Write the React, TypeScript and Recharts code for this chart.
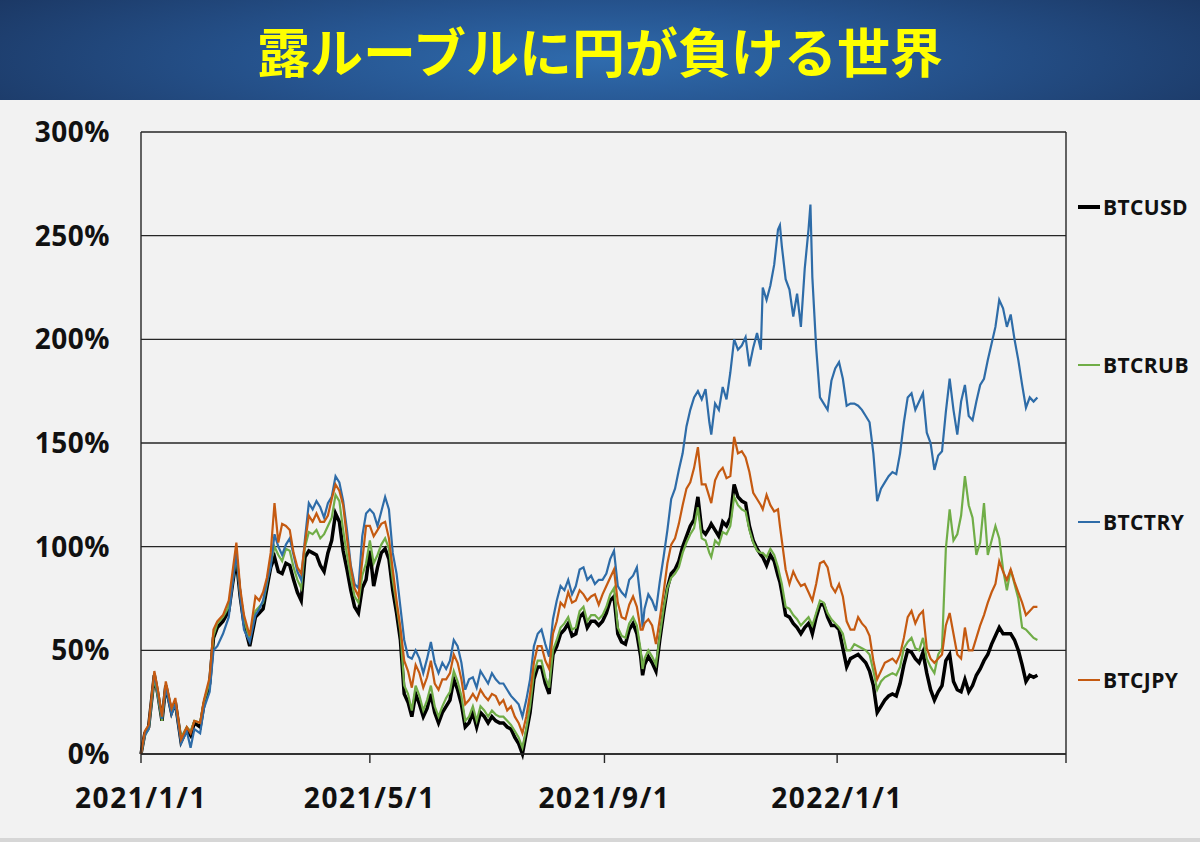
import { LineChart, Line, XAxis, YAxis, CartesianGrid, ReferenceLine } from 'recharts';

// days counted from 2021/1/1
const days = [
  0, 2, 4, 7, 9, 11, 13, 16, 18, 21, 24, 26, 28, 31, 33, 36, 38, 40, 43, 46, 48, 50, 52, 54, 57,
  60, 62, 64, 66, 68, 70, 72, 74, 76, 78, 80, 82, 84, 86, 88, 90, 92, 94, 96, 98, 100, 102, 104,
  106, 108, 110, 112, 114, 116, 118,
  120, 122, 124, 126, 128, 130, 132, 134, 136, 138, 140, 142, 144, 146, 148, 150, 152, 154, 156,
  158, 160, 162, 164, 166, 168, 170, 172, 174, 176, 178, 180, 182, 184, 186, 188, 190, 192, 194,
  196, 198, 200, 202, 204, 206, 208, 210, 212, 214, 216, 218, 220, 222, 224, 226, 228, 230, 232,
  234, 236, 238, 240, 242, 244, 246, 248,
  250, 252, 254, 256, 258, 260, 262, 263, 264, 266, 268, 270, 272, 274, 276, 278, 280, 282, 284,
  286, 288, 290, 292, 294, 296, 298, 299, 301, 303, 305, 307, 309, 311, 313, 315, 317, 319, 321,
  323, 325, 326, 328, 330, 332, 334, 335, 336, 338, 340, 342, 344, 346, 348, 350, 351, 352, 354,
  356, 358, 360, 362, 364, 366, 368, 370,
  372, 374, 376, 378, 380, 382, 384, 386, 388, 390, 392, 394, 396, 398, 400, 402, 404, 406, 408,
  410, 412, 414, 416, 418, 420, 422, 424, 426, 428, 430, 432, 434, 436, 438, 440, 442, 444, 446,
  448, 450, 452, 454, 456, 458, 460, 462, 464, 466, 468, 470,
];

const btcUsd = [
  0, 10, 13, 38, 28, 16, 33, 20, 25, 6, 12, 9, 15, 13, 24, 34, 56, 61, 64, 69, 82, 94, 76, 63, 52,
  66, 68, 70, 80, 90, 95, 88, 87, 92, 91, 84, 78, 74, 95, 98, 97, 96, 91, 88, 97, 103, 116, 112,
  98, 89, 79, 71, 68, 80, 84,
  98, 81, 90, 97, 99, 94, 79, 68, 55, 29, 25, 18, 29, 24, 18, 22, 29, 20, 15, 20, 23, 26, 36, 31,
  24, 13, 15, 20, 13, 20, 18, 15, 18, 16, 15, 15, 13, 12, 8, 5, 0, 10, 20, 36, 42, 42, 34, 29, 48,
  52, 58, 60, 63, 57, 58, 66, 68, 61, 64, 64, 62, 64, 68, 74, 76,
  58, 54, 53, 60, 63, 58, 47, 38, 43, 47, 44, 40, 55, 68, 80, 87, 89, 93, 100, 105, 110, 113, 124,
  108, 106, 109, 111, 108, 105, 112, 110, 114, 130, 124, 122, 121, 110, 103, 99, 96, 95, 91, 96,
  93, 86, 83, 78, 67, 66, 63, 61, 58, 61, 63, 61, 58, 66, 72, 72, 66, 62, 62, 60, 51, 42,
  46, 47, 48, 46, 44, 40, 33, 20, 23, 26, 28, 29, 28, 34, 43, 50, 49, 46, 44, 49, 39, 31, 26, 30,
  33, 45, 48, 35, 31, 30, 36, 30, 33, 38, 41, 45, 48, 53, 57, 61, 58, 58, 58, 55, 50, 43, 35, 38,
  37, 38,
];

const btcRub = [
  0, 9, 12, 37, 27, 16, 33, 21, 24, 8, 13, 11, 16, 15, 25, 35, 57, 63, 66, 71, 83, 96, 77, 65, 55,
  69, 71, 73, 82, 92, 100, 96, 93, 99, 98, 90, 84, 80, 100, 107, 106, 108, 104, 106, 110, 114, 125,
  122, 108, 96, 85, 76, 73, 86, 92,
  103, 92, 96, 101, 104, 99, 84, 72, 59, 33, 29, 21, 33, 28, 21, 26, 33, 23, 18, 23, 27, 30, 40,
  35, 28, 16, 18, 23, 16, 23, 21, 18, 21, 19, 18, 18, 16, 14, 11, 8, 3, 12, 23, 39, 45, 45, 37, 32,
  50, 55, 61, 63, 66, 60, 61, 69, 71, 64, 67, 67, 65, 67, 71, 77, 80,
  61, 57, 56, 63, 66, 62, 50, 41, 46, 50, 47, 43, 57, 70, 80, 85, 87, 90, 97, 102, 106, 109, 119,
  104, 103, 97, 95, 103, 101, 107, 106, 110, 124, 120, 118, 117, 108, 102, 98, 97, 97, 95, 99, 96,
  90, 86, 82, 71, 70, 67, 65, 62, 64, 66, 64, 62, 68, 74, 73, 68, 65, 63, 61, 58, 50,
  50, 53, 52, 51, 50, 48, 40, 31, 35, 37, 38, 39, 38, 42, 51, 54, 56, 51, 50, 56, 46, 42, 39, 48,
  51, 99, 118, 103, 106, 115, 134, 120, 114, 96, 102, 121, 96, 103, 110, 104, 89, 79, 89, 82, 75,
  61, 60, 58, 56, 55,
];

const btcTry = [
  0, 9, 12, 39, 28, 17, 32, 19, 24, 5, 11, 3, 12, 10, 22, 30, 50, 52, 58, 66, 82, 97, 76, 60, 54,
  67, 70, 74, 83, 90, 106, 100, 96, 101, 104, 96, 88, 84, 104, 121, 118, 122, 119, 114, 121, 124,
  134, 131, 122, 108, 91, 82, 80, 105, 116,
  118, 116, 110, 117, 124, 118, 97, 87, 71, 55, 47, 46, 50, 46, 39, 46, 54, 44, 39, 44, 41, 45, 55,
  52, 44, 31, 36, 37, 32, 40, 37, 34, 39, 36, 34, 34, 31, 28, 26, 24, 18, 26, 36, 52, 58, 60, 53,
  47, 65, 74, 81, 79, 84, 77, 81, 89, 90, 84, 86, 82, 84, 84, 87, 94, 98,
  81, 78, 76, 84, 86, 90, 74, 61, 70, 77, 74, 69, 83, 95, 108, 123, 128, 137, 145, 158, 166, 172,
  175, 171, 176, 160, 154, 169, 166, 177, 171, 184, 200, 195, 197, 201, 187, 196, 203, 195, 225,
  219, 226, 236, 253, 255, 245, 229, 224, 211, 222, 206, 234, 253, 265, 230, 196, 172, 169, 166,
  180, 186, 189, 181, 168,
  169, 169, 168, 166, 163, 160, 145, 122, 128, 131, 134, 136, 135, 145, 160, 172, 174, 166, 170,
  174, 155, 150, 137, 144, 146, 165, 181, 166, 154, 170, 178, 163, 161, 170, 178, 181, 190, 198,
  206, 219, 215, 206, 212, 200, 190, 178, 167, 172, 170, 172,
];

const btcJpy = [
  0, 11, 14, 40, 30, 18, 35, 22, 27, 7, 13, 10, 16, 15, 26, 37, 60, 64, 67, 74, 88, 102, 80, 67,
  57, 76, 74, 78, 85, 97, 121, 102, 111, 110, 108, 97, 90, 87, 102, 115, 112, 116, 112, 112, 115,
  123, 130, 127, 120, 104, 90, 80, 76, 93, 110,
  110, 105, 108, 111, 112, 104, 89, 74, 61, 45, 40, 32, 43, 39, 32, 37, 45, 34, 31, 36, 36, 39, 48,
  44, 36, 24, 26, 29, 26, 31, 28, 26, 29, 28, 24, 26, 21, 23, 18, 15, 10, 18, 29, 44, 52, 52, 45,
  41, 58, 64, 73, 71, 78, 73, 74, 79, 77, 74, 76, 77, 72, 77, 81, 85, 89,
  73, 66, 65, 72, 76, 71, 60, 60, 63, 65, 62, 53, 65, 78, 92, 101, 104, 111, 120, 128, 131, 138,
  148, 130, 130, 124, 121, 132, 136, 138, 133, 134, 153, 145, 146, 143, 136, 126, 123, 120, 118,
  125, 120, 117, 118, 110, 103, 89, 82, 88, 84, 81, 82, 78, 76, 74, 82, 92, 93, 90, 81, 78, 82, 76,
  64,
  60, 60, 66, 63, 61, 57, 45, 36, 40, 44, 45, 46, 44, 48, 56, 66, 69, 63, 67, 69, 51, 46, 44, 46,
  48, 62, 68, 58, 48, 46, 61, 50, 50, 56, 62, 67, 73, 78, 82, 93, 88, 84, 89, 83, 78, 73, 67, 69,
  71, 71,
];

const yTicks = [0, 50, 100, 150, 200, 250, 300];
const xTickDays = [0, 120, 243, 365, 485];
const xTickLabels = ['2021/1/1', '2021/5/1', '2021/9/1', '2022/1/1', ''];

const seriesNames = ['BTCUSD', 'BTCRUB', 'BTCTRY', 'BTCJPY'];

const SERIES = [
  { key: 'usd', name: seriesNames[0], color: '#000000', width: 3.5, legendTop: 207 },
  { key: 'rub', name: seriesNames[1], color: '#70ad47', width: 2.2, legendTop: 365 },
  { key: 'try', name: seriesNames[2], color: '#2e6ca8', width: 2.2, legendTop: 522 },
  { key: 'jpy', name: seriesNames[3], color: '#c55a11', width: 2.2, legendTop: 680 },
];

const data = days.map((day, i) => ({
  day,
  usd: btcUsd[i],
  rub: btcRub[i],
  try: btcTry[i],
  jpy: btcJpy[i],
}));

const GRID = '#262626';
const FONT = '"Open Sans", "Noto Sans", sans-serif';

export default function App() {
  return (
    <div
      style={{
        position: 'absolute',
        left: 0,
        top: 0,
        width: 1200,
        height: 842,
        background: '#f2f2f2',
        overflow: 'hidden',
        fontFamily: FONT,
      }}
    >
      <LineChart
        width={1200}
        height={842}
        data={data}
        margin={{ top: 132, right: 134, bottom: 0, left: 0 }}
        style={{ position: 'absolute', left: 0, top: 0 }}
      >
        <CartesianGrid vertical={false} stroke={GRID} strokeWidth={1.4} />
        <XAxis
          dataKey="day"
          type="number"
          domain={[0, 485]}
          ticks={xTickDays}
          interval={0}
          height={88}
          tickSize={9}
          tickMargin={25}
          axisLine={{ stroke: GRID, strokeWidth: 1.4 }}
          tickLine={{ stroke: GRID, strokeWidth: 1.4 }}
          tickFormatter={(v) => xTickLabels[xTickDays.indexOf(v)] ?? ''}
          tick={{
            fill: '#111',
            fontSize: 28,
            fontWeight: 700,
            fontFamily: FONT,
            letterSpacing: 1.6,
          }}
        />
        <YAxis
          type="number"
          domain={[0, 300]}
          ticks={yTicks}
          interval={0}
          width={141}
          tickLine={false}
          tickSize={6}
          tickMargin={25}
          axisLine={{ stroke: GRID, strokeWidth: 1.4 }}
          tickFormatter={(v) => `${v}%`}
          tick={{ fill: '#111', fontSize: 28, fontWeight: 700, fontFamily: FONT, letterSpacing: 0.5 }}
        />
        <ReferenceLine x={485} stroke={GRID} strokeWidth={1.4} />
        {SERIES.map((s) => (
          <Line
            key={s.key}
            dataKey={s.key}
            name={s.name}
            type="linear"
            stroke={s.color}
            strokeWidth={s.width}
            dot={false}
            activeDot={false}
            isAnimationActive={false}
          />
        ))}
      </LineChart>

      {/* title banner */}
      <div
        style={{
          position: 'absolute',
          left: 0,
          top: 0,
          width: 1200,
          height: 100,
          background:
            'radial-gradient(ellipse 60% 120% at 50% 60%, #2f6bad 0%, #26548f 45%, #1b3763 100%)',
          display: 'flex',
          alignItems: 'center',
          justifyContent: 'center',
        }}
      >
        <span
          style={{
            color: '#ffff00',
            fontFamily: '"Noto Sans CJK JP", sans-serif',
            fontWeight: 700,
            fontSize: 53,
            lineHeight: 1,
          }}
        >
          露ルーブルに円が負ける世界
        </span>
      </div>

      {/* legend */}
      {SERIES.map((s) => (
        <div
          key={s.key}
          style={{
            position: 'absolute',
            left: 1078,
            top: s.legendTop - 14,
            height: 28,
            display: 'flex',
            alignItems: 'center',
          }}
        >
          <div
            style={{
              width: 22,
              height: s.key === 'usd' ? 3.5 : 2.5,
              background: s.color,
              marginRight: 3,
            }}
          />
          <span
            style={{
              fontSize: 21,
              fontWeight: 700,
              color: '#111',
              fontFamily: FONT,
              letterSpacing: 0.4,
            }}
          >
            {s.name}
          </span>
        </div>
      ))}

      <div
        style={{
          position: 'absolute',
          left: 0,
          top: 838,
          width: 1200,
          height: 4,
          background: '#d6d6d6',
        }}
      />
    </div>
  );
}
